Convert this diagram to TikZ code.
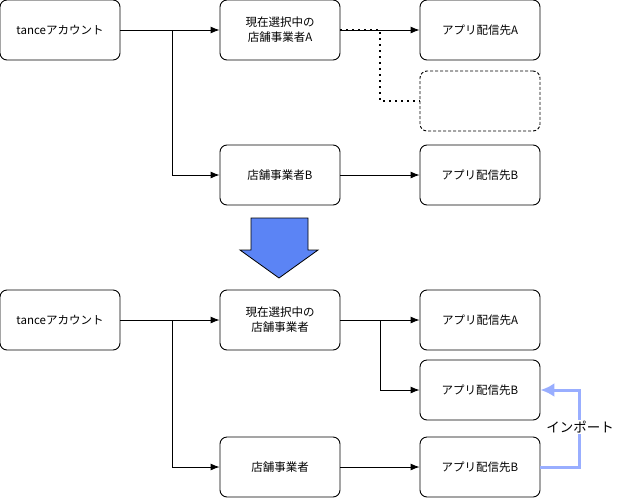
\documentclass[tikz,border=0pt]{standalone}
\usepackage{fontspec}
\setmainfont{Noto Sans CJK JP}
\usetikzlibrary{arrows.meta, shapes.arrows}
\definecolor{arrowblue}{HTML}{5B84F5}
\definecolor{importblue}{HTML}{99AEFF}
\tikzset{
  box/.style={draw, line width=0.9pt, rounded corners=7pt, minimum width=120pt, minimum height=60pt, align=center, font=\fontsize{11.5}{15}\selectfont},
  dashbox/.style={box, dash pattern=on 3pt off 2pt},
  link/.style={line width=0.9pt, -{Latex[length=9pt,width=7pt]}},
  importlink/.style={importblue, line width=3pt, -{Latex[length=14pt,width=14pt]}}
}

\begin{document}
\begin{tikzpicture}[x=1pt,y=-1pt]
            \useasboundingbox (0,0) rectangle (618,498);

            % upper part
            \node[box] (acc1) at (60,30) {tanceアカウント};
            \node[box] (shopA) at (280,30) {現在選択中の\\店舗事業者A};
            \node[box] (appA1) at (480,30) {アプリ配信先A};
            \node[dashbox] (empty) at (480,101) {};
            \node[box] (shopB) at (280,175) {店舗事業者B};
            \node[box] (appB1) at (480,175) {アプリ配信先B};

            \coordinate (br1) at (172,30);
            \coordinate (dot1) at (380,30);
            \draw[link] (acc1) -- (shopA);
            \draw[link] (br1) |- (shopB);
            \draw[link] (shopA) -- (appA1);
            \draw[link] (shopB) -- (appB1);
            \draw[line width=1.6pt, dash pattern=on 1.6pt off 4.4pt] (shopA.east) -- (dot1) |- (empty);

            % big arrow
            \draw[fill=arrowblue, line width=0.8pt, line join=miter] (251,218) -- (308,218) -- (308,250) -- (318,250)
                -- (279,278) -- (240,250) -- (251,250) -- cycle;

            % lower part
            \node[box] (acc2) at (60,320) {tanceアカウント};
            \node[box] (shopC) at (280,320) {現在選択中の\\店舗事業者};
            \node[box] (appA2) at (480,320) {アプリ配信先A};
            \node[box] (appB2) at (480,390) {アプリ配信先B};
            \node[box] (shopD) at (280,467) {店舗事業者};
            \node[box] (appB3) at (480,467) {アプリ配信先B};

            \coordinate (br2) at (172,320);
            \coordinate (br3) at (380,320);
            \draw[link] (acc2) -- (shopC);
            \draw[link] (br2) |- (shopD);
            \draw[link] (shopC) -- (appA2);
            \draw[link] (br3) |- (appB2);
            \draw[link] (shopD) -- (appB3);

            \draw[importlink] (appB3.east) -- ++(39,0) |- (appB2.east);
            \node[fill=white, inner sep=1pt, font=\fontsize{13.5}{16}\selectfont] (imp) at (580,427) {インポート};
        \end{tikzpicture}
\end{document}
